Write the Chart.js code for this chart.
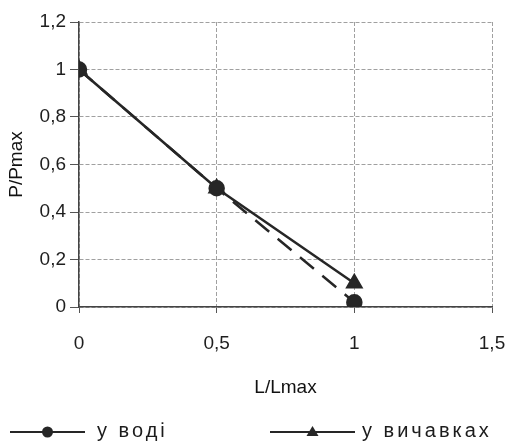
<!DOCTYPE html>
<html>
<head>
<meta charset="utf-8">
<script src="https://cdn.jsdelivr.net/npm/chart.js"></script>
<style>
	html, body { margin: 0; padding: 0; background: #fff; }
	#wrap { width: 510px; height: 443px; position: relative; }
</style>
</head>
<body>
<div id="wrap"><canvas id="chart-line"></canvas></div>
<script>
// Chart data
const X_VALUES = [0, 0.5, 1];
const WATER_VALUES = [1, 0.5, 0.02];
const POMACE_VALUES = [1, 0.5, 0.1];
const SERIES_LABELS = ["у воді", "у вичавках"];
const X_TICKS = [0, 0.5, 1, 1.5];
const Y_TICKS = [0, 0.2, 0.4, 0.6, 0.8, 1, 1.2];

const INK = "#262626";
const GRID = "#a0a0a0";
const FONT = "'Liberation Sans', Arial, sans-serif";

const toPoints = (values) => X_VALUES.map((x, i) => ({ x, y: values[i] }));
const fmt = (v) => String(Math.round(v * 10) / 10).replace(".", ",");

// legend with line + marker, drawn under the plot
const lineLegend = {
	id: "lineLegend",
	afterDraw(chart) {
		const ctx = chart.ctx;
		const y = 432;
		const items = [
			{ x1: 10, x2: 85, text: 97 },
			{ x1: 270, x2: 355, text: 362 },
		];
		chart.data.datasets.forEach((ds, i) => {
			const it = items[i];
			ctx.save();
			ctx.strokeStyle = INK;
			ctx.lineWidth = 2;
			ctx.beginPath();
			ctx.moveTo(it.x1, y);
			ctx.lineTo(it.x2, y);
			ctx.stroke();
			ctx.fillStyle = INK;
			const mx = (it.x1 + it.x2) / 2;
			ctx.beginPath();
			if (ds.pointStyle === "triangle") {
				ctx.moveTo(mx, y - 6);
				ctx.lineTo(mx + 6, y + 4);
				ctx.lineTo(mx - 6, y + 4);
				ctx.closePath();
			} else {
				ctx.arc(mx, y, 5.5, 0, Math.PI * 2);
			}
			ctx.fill();
			ctx.font = "20px " + FONT;
			ctx.letterSpacing = "3px";
			ctx.textBaseline = "middle";
			ctx.fillStyle = "#1c1c1c";
			ctx.fillText(ds.label, it.text, y - 1);
			ctx.restore();
		});
	},
};

const DATA = {
	datasets: [
		{
			label: SERIES_LABELS[0],
			data: toPoints(WATER_VALUES),
			showLine: true,
			borderColor: INK,
			borderWidth: 2.5,
			borderDash: [18, 11],
			pointStyle: "circle",
			pointRadius: 7,
			pointBackgroundColor: INK,
			pointBorderColor: INK,
		},
		{
			label: SERIES_LABELS[1],
			data: toPoints(POMACE_VALUES),
			showLine: true,
			borderColor: INK,
			borderWidth: 2.5,
			pointStyle: "triangle",
			pointRadius: 8,
			pointBackgroundColor: INK,
			pointBorderColor: INK,
		},
	],
};

const CONFIG = {
	type: "scatter",
	data: DATA,
	plugins: [lineLegend],
	options: {
		animation: false,
		responsive: true,
		maintainAspectRatio: false,
		layout: {
			padding: { top: 22, right: 18, bottom: 36, left: 0 },
		},
		plugins: {
			legend: { display: false },
			tooltip: { enabled: false },
		},
		scales: {
			x: {
				type: "linear",
				min: 0,
				max: 1.5,
				afterBuildTicks: (scale) => {
					scale.ticks = X_TICKS.map((v) => ({ value: v }));
				},
				afterFit: (scale) => {
					scale.height = 100;
					scale.paddingLeft = 0;
					scale.paddingRight = 0;
				},
				border: { display: true, color: "#444", width: 1.5, dash: [4, 2] },
				grid: {
					color: GRID,
					lineWidth: 1,
					tickLength: 6,
					tickColor: "#555",
				},
				ticks: {
					padding: 19,
					maxRotation: 0,
					color: "#1e1e1e",
					font: { family: FONT, size: 19 },
					callback: (v) => fmt(v),
				},
				title: {
					display: true,
					text: "L/Lmax",
					color: "#111",
					font: { family: FONT, size: 19 },
					padding: { top: 0, bottom: 8 },
				},
			},
			y: {
				type: "linear",
				min: 0,
				max: 1.2,
				afterBuildTicks: (scale) => {
					scale.ticks = Y_TICKS.map((v) => ({ value: v }));
				},
				afterFit: (scale) => {
					scale.width = 79;
				},
				border: { display: true, color: "#444", width: 1.5, dash: [4, 2] },
				grid: {
					color: GRID,
					lineWidth: 1,
					tickLength: 9,
					tickColor: "#555",
				},
				ticks: {
					padding: 4,
					color: "#1e1e1e",
					font: { family: FONT, size: 19 },
					callback: (v) => fmt(v),
				},
				title: {
					display: true,
					text: "P/Pmax",
					color: "#111",
					font: { family: FONT, size: 19 },
					padding: { top: 5, bottom: 0 },
				},
			},
		},
	},
};

// Init chart
new Chart(document.getElementById("chart-line"), CONFIG);
</script>
</body>
</html>
